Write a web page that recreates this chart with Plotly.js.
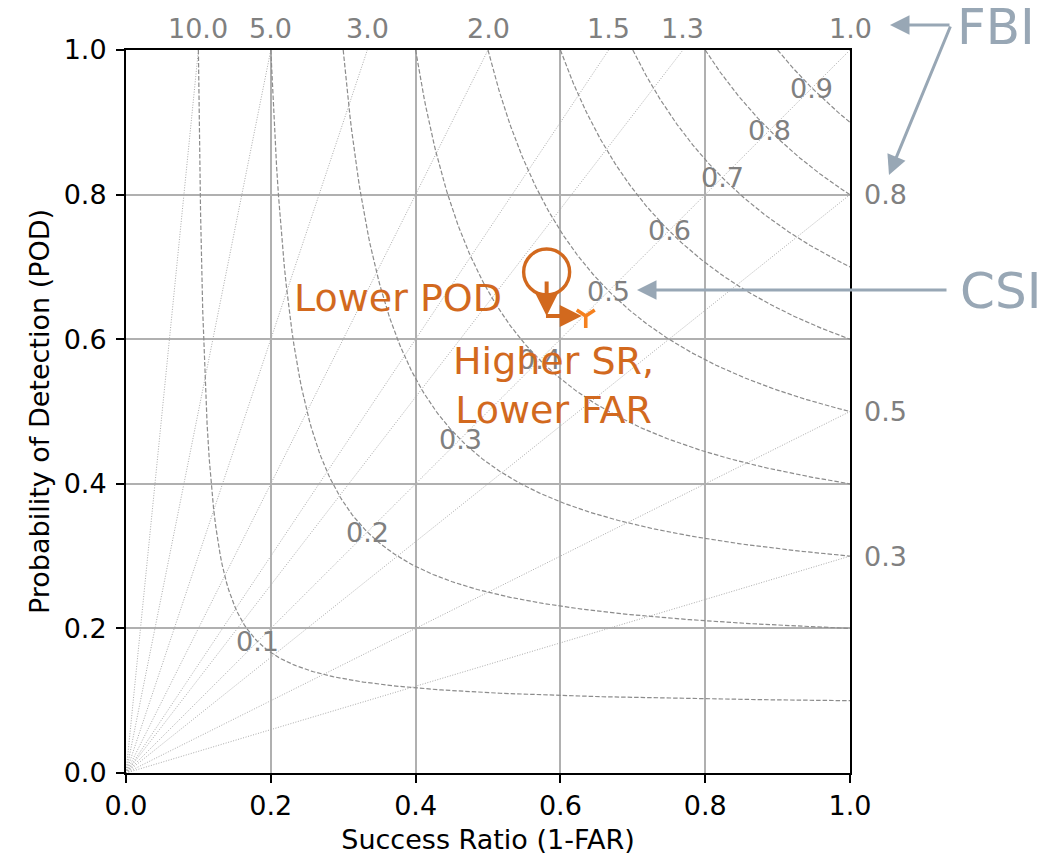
<!DOCTYPE html>
<html>
<head>
<meta charset="utf-8">
<script src="https://cdn.plot.ly/plotly-3.0.1.min.js"></script>
<style>html,body{margin:0;padding:0;background:#fff;}#chart{width:1064px;height:855px;}</style>
</head>
<body>
<div id="chart"></div>
<script>
// ---- data ----
const biasValues = [0.3, 0.5, 0.8, 1.0, 1.3, 1.5, 2.0, 3.0, 5.0, 10.0];
const biasLabels = ['0.3', '0.5', '0.8', '1.0', '1.3', '1.5', '2.0', '3.0', '5.0', '10.0'];
const csiValues = [0.1, 0.2, 0.3, 0.4, 0.5, 0.6, 0.7, 0.8, 0.9];
const csiLabels = ['0.1', '0.2', '0.3', '0.4', '0.5', '0.6', '0.7', '0.8', '0.9'];
const axisTicks = [0, 0.2, 0.4, 0.6, 0.8, 1.0];
const axisTickLabels = ['0.0', '0.2', '0.4', '0.6', '0.8', '1.0'];
const beforeSR = [0.581];
const beforePOD = [0.693];
const afterSR = [0.635];
const afterPOD = [0.632];

const FONT = 'DejaVu Sans, Verdana, sans-serif';
const ORANGE = '#d2691e';
const SLATE = '#98a7b5';
const GRAY = '#808080';
const LBL = 27;

const traces = [];
// bias (FBI) lines
biasValues.forEach(b => {
  const endSR = Math.min(1, 1 / b);
  const endPOD = Math.min(1, b);
  traces.push({
    x: [0, endSR], y: [0, endPOD], mode: 'lines', hoverinfo: 'skip', showlegend: false,
    line: {color: '#ababab', width: 1, dash: '1px,1.6px'}
  });
});
// CSI isolines
csiValues.forEach(c => {
  const xs = [], ys = [];
  const n = 300;
  for (let i = 0; i <= n; i++) {
    const sr = c + (1 - c) * i / n;
    xs.push(sr);
    ys.push(1 / (1 / c - 1 / sr + 1));
  }
  traces.push({
    x: xs, y: ys, mode: 'lines', hoverinfo: 'skip', showlegend: false,
    line: {color: '#8c8c8c', width: 1.2, dash: '4.5px,2px'}
  });
});
// points
traces.push({
  x: beforeSR, y: beforePOD, mode: 'markers', showlegend: false,
  marker: {symbol: 'circle-open', size: 46, color: ORANGE, line: {color: ORANGE, width: 3.4}}
});
traces.push({
  x: afterSR, y: afterPOD, mode: 'markers', showlegend: false,
  marker: {symbol: 'y-down', size: 15, color: '#f5801e', line: {color: '#f5801e', width: 3.6}}
});

const annotations = [];
// FBI labels
biasValues.forEach((b, i) => {
  if (b >= 1) {
    annotations.push({x: 1 / b, y: 1, xref: 'x', yref: 'paper', yshift: 22, text: biasLabels[i],
      showarrow: false, xanchor: 'center', yanchor: 'middle', font: {family: FONT, size: LBL, color: GRAY}});
  } else {
    annotations.push({x: 1, y: b, xref: 'paper', yref: 'y', xshift: 12, text: biasLabels[i],
      showarrow: false, xanchor: 'left', yanchor: 'middle', font: {family: FONT, size: LBL, color: GRAY}});
  }
});
// CSI labels on the diagonal
csiValues.forEach((c, i) => {
  const p = 2 * c / (1 + c);
  annotations.push({x: p, y: p, xref: 'x', yref: 'y', text: csiLabels[i], showarrow: false,
    xanchor: 'center', yanchor: 'middle', font: {family: FONT, size: LBL, color: GRAY}});
});
// orange arrows
annotations.push({x: beforeSR[0], y: afterPOD[0], ax: beforeSR[0], ay: beforePOD[0], xref: 'x', yref: 'y',
  axref: 'x', ayref: 'y', text: '', showarrow: true, arrowhead: 2, arrowsize: 1.1, arrowwidth: 4,
  arrowcolor: ORANGE, startstandoff: 8});
annotations.push({x: afterSR[0], y: afterPOD[0], ax: beforeSR[0] - 0.003, ay: afterPOD[0], xref: 'x', yref: 'y',
  axref: 'x', ayref: 'y', text: '', showarrow: true, arrowhead: 2, arrowsize: 1.1, arrowwidth: 4,
  arrowcolor: ORANGE, standoff: 4, startstandoff: 0});
annotations.push({x: (398 - 126) / 724, y: (773 - 298) / 723, xref: 'paper', yref: 'paper', text: 'Lower POD',
  showarrow: false, xanchor: 'center', yanchor: 'middle', font: {family: FONT, size: 38, color: ORANGE}});
annotations.push({x: (553 - 126) / 724, y: (773 - 385) / 723, xref: 'paper', yref: 'paper',
  text: 'Higher SR,<br>Lower FAR', align: 'center',
  showarrow: false, xanchor: 'center', yanchor: 'middle', font: {family: FONT, size: 38, color: ORANGE}});
// FBI / CSI callouts
annotations.push({x: (996 - 126) / 724, y: (773 - 27) / 723, xref: 'paper', yref: 'paper', text: 'FBI',
  height: 52, valign: 'middle',
  showarrow: false, xanchor: 'center', yanchor: 'middle', font: {family: FONT, size: 50, color: SLATE}});
annotations.push({x: (1000 - 126) / 724, y: (773 - 291) / 723, xref: 'paper', yref: 'paper', text: 'CSI',
  showarrow: false, xanchor: 'center', yanchor: 'middle', font: {family: FONT, size: 50, color: SLATE}});
annotations.push({x: (890 - 126) / 724, y: (773 - 25) / 723, xref: 'paper', yref: 'paper', ax: 61, ay: 0,
  text: '', showarrow: true, arrowhead: 2, arrowsize: 1.3, arrowwidth: 3, arrowcolor: SLATE});
annotations.push({x: (889 - 126) / 724, y: (773 - 175) / 723, xref: 'paper', yref: 'paper', ax: 62, ay: -150,
  text: '', showarrow: true, arrowhead: 2, arrowsize: 1.3, arrowwidth: 3, arrowcolor: SLATE});
annotations.push({x: (637 - 126) / 724, y: (773 - 290) / 723, xref: 'paper', yref: 'paper', ax: 311, ay: 0,
  text: '', showarrow: true, arrowhead: 2, arrowsize: 1.3, arrowwidth: 3, arrowcolor: SLATE});

const axisCommon = {
  range: [0, 1], tickvals: axisTicks, ticktext: axisTickLabels,
  showline: true, mirror: true, linecolor: '#000', linewidth: 2,
  ticks: 'outside', ticklen: 8, tickwidth: 2, tickcolor: '#000',
  showgrid: true, gridcolor: '#b0b0b0', gridwidth: 2, zeroline: false,
  tickfont: {family: FONT, size: LBL, color: '#000'}, fixedrange: true
};

const layout = {
  width: 1064, height: 855,
  margin: {l: 126, r: 214, t: 50, b: 82},
  paper_bgcolor: '#fff', plot_bgcolor: '#fff',
  showlegend: false,
  xaxis: Object.assign({}, axisCommon, {ticklabelstandoff: 0,
    title: {text: 'Success Ratio (1-FAR)', font: {family: FONT, size: 27, color: '#000'}, standoff: 12}}),
  yaxis: Object.assign({}, axisCommon, {ticklabelstandoff: 4,
    title: {text: 'Probability of Detection (POD)', font: {family: FONT, size: 27, color: '#000'}, standoff: 6}}),
  annotations: annotations
};

Plotly.newPlot('chart', traces, layout, {displayModeBar: false, staticPlot: true});
</script>
</body>
</html>
